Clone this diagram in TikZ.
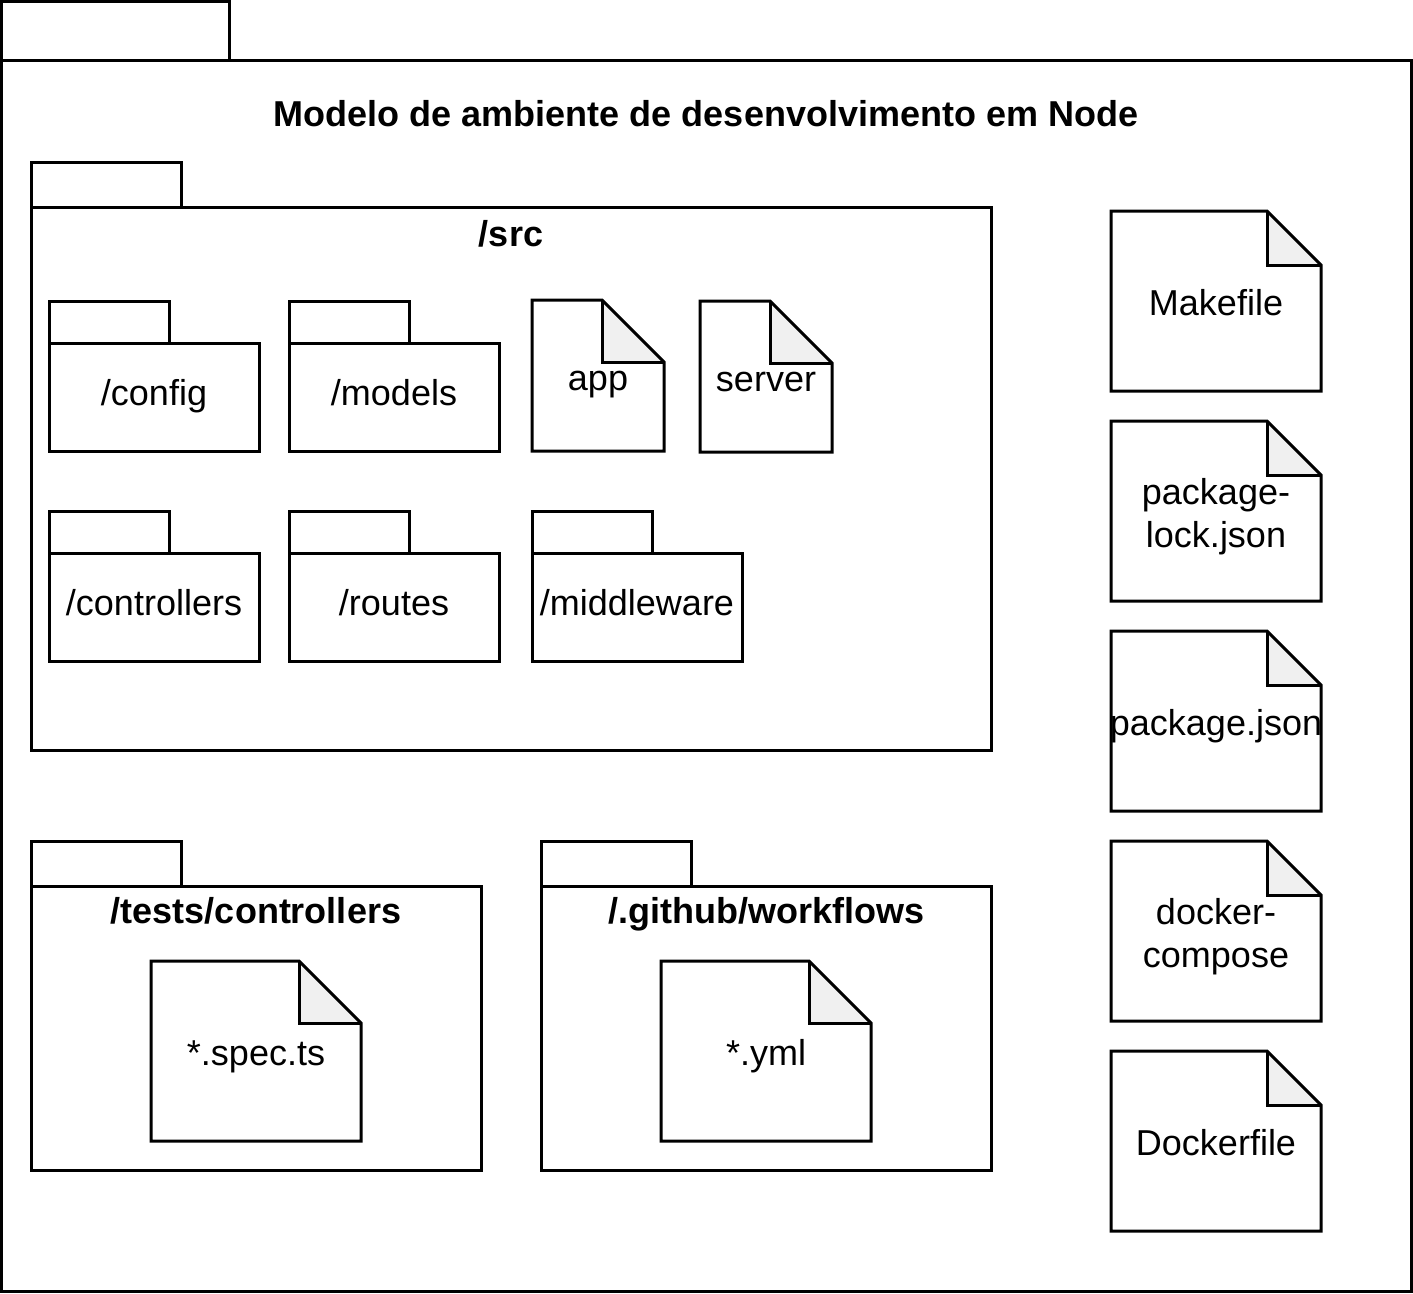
\documentclass[tikz,border=0pt]{standalone}
\usepackage{fontspec}
\setmainfont{Liberation Sans}
\usetikzlibrary{positioning}
\definecolor{foldgray}{RGB}{240,240,240}
\tikzset{
  pkgbody/.style={draw, line width=3pt, anchor=north west, inner sep=0pt, outer sep=0pt},
  pkgtab/.style={draw, line width=3pt},
  pkgname/.style={font=\fontsize{36}{43.2}\selectfont\bfseries, anchor=base, inner sep=0pt},
  subpkg/.style={pkgbody, minimum width=210pt, minimum height=108pt,
    font=\fontsize{36}{43.2}\selectfont, text height=23pt, text depth=7pt},
  filenote/.style={anchor=north west, inner sep=0pt, outer sep=0pt, align=center,
    font=\fontsize{36}{43.2}\selectfont, text height=36.2pt, text depth=7pt},
  twoline/.style={text height=79.4pt, text depth=7pt},
  bignote/.style={filenote, minimum width=210pt, minimum height=180pt}
}

\begin{document}
\begin{tikzpicture}[x=1pt, y=-1pt, line width=3pt, line join=miter]
  \useasboundingbox (0,0) rectangle (1413,1293);

  % outer package
  \node[pkgbody, minimum width=1410pt, minimum height=1231pt] (env) at (1,60) {};
  \draw[pkgtab] (env.north west) rectangle ([xshift=228pt,yshift=59pt]env.north west);
  \node[pkgname] (envname) at ([yshift=-66pt]env.north) {Modelo de ambiente de desenvolvimento em Node};

  % /src
  \node[pkgbody, minimum width=960pt, minimum height=543pt] (src) at (31,207) {};
  \draw[pkgtab] (src.north west) rectangle ([xshift=150pt,yshift=45pt]src.north west);
  \node[pkgname] (srcname) at ([yshift=-39pt]src.north) {/src};

  \node[subpkg] (config) at (49,343) {/config};
  \node[subpkg, right=30pt of config] (models) {/models};
  \node[subpkg, below=102pt of config] (controllers) {/controllers};
  \node[subpkg, right=30pt of controllers] (routes) {/routes};
  \node[subpkg, right=33pt of routes] (middleware) {/middleware};
  \foreach \p in {config,models,controllers,routes,middleware}
    \draw[pkgtab] (\p.north west) rectangle ([xshift=120pt,yshift=42pt]\p.north west);

  \node[filenote, minimum width=132pt, minimum height=151pt] (app) at (532,300) {app};
  \node[filenote, minimum width=132pt, minimum height=151pt] (server) at (700,301) {server};

  % tests and workflows
  \node[pkgbody, minimum width=450pt, minimum height=284pt] (tests) at (31,886) {};
  \node[pkgbody, minimum width=450pt, minimum height=284pt, right=60pt of tests] (workflows) {};
  \foreach \p in {tests,workflows}
    \draw[pkgtab] (\p.north west) rectangle ([xshift=150pt,yshift=45pt]\p.north west);
  \node[pkgname] (testsname) at ([yshift=-37pt]tests.north) {/tests/controllers};
  \node[pkgname] (workflowsname) at ([yshift=-37pt]workflows.north) {/.github/workflows};

  \node[bignote, below right=75pt and 120pt of tests.north west] (specs) {*.spec.ts};
  \node[bignote, below right=75pt and 120pt of workflows.north west] (yml) {*.yml};

  % files at the root
  \node[bignote] (makefile) at (1111,211) {Makefile};
  \node[bignote, twoline, below right=30pt and 0pt of makefile.south west] (lockjson) {package-\\lock.json};
  \node[bignote, below right=30pt and 0pt of lockjson.south west] (pkgjson) {\makebox[0pt]{package.json}};
  \node[bignote, twoline, below right=30pt and 0pt of pkgjson.south west] (compose) {docker-\\compose};
  \node[bignote, below right=30pt and 0pt of compose.south west] (dockerfile) {Dockerfile};

  \foreach \f/\s in {app/62,server/62,specs/62,yml/62,makefile/54,lockjson/54,pkgjson/54,compose/54,dockerfile/54} {
    \fill[foldgray] ([xshift=-\s pt]\f.north east) |- ([yshift=-\s pt]\f.north east) -- cycle;
    \draw ([xshift=-\s pt]\f.north east) |- ([yshift=-\s pt]\f.north east);
    \draw (\f.north west) -- ([xshift=-\s pt]\f.north east) -- ([yshift=-\s pt]\f.north east)
      -- (\f.south east) -- (\f.south west) -- cycle;
  }
\end{tikzpicture}
\end{document}
